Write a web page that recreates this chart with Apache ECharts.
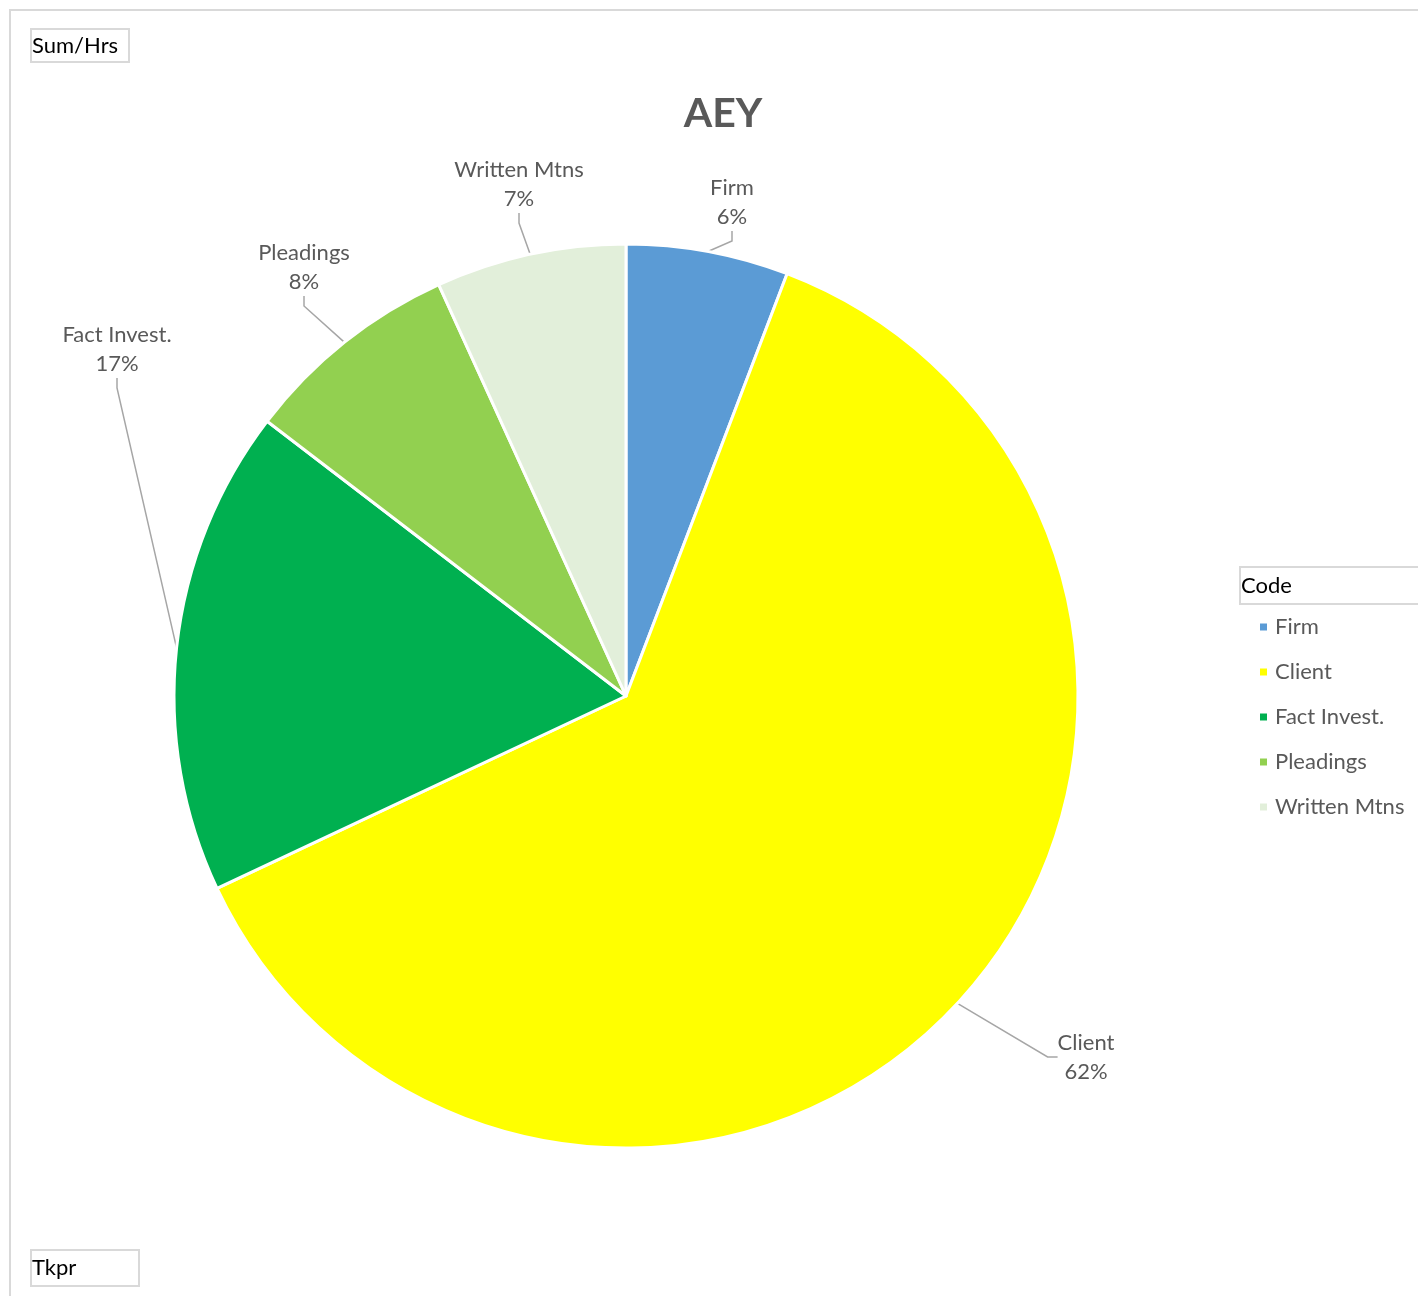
<!DOCTYPE html>
<html>
<head>
<meta charset="utf-8">
<script src="https://cdn.jsdelivr.net/npm/echarts@6/dist/echarts.min.js"></script>
<style>
  html, body { margin: 0; padding: 0; background: #fff; }
  #chart { width: 1418px; height: 1296px; }
</style>
</head>
<body>
<div id="chart"></div>
<script>
// data (hours share per code)
const codes = ['Firm', 'Client', 'Fact Invest.', 'Pleadings', 'Written Mtns'];
const hours = [5.8, 62.2, 17.4, 7.8, 6.8];
const colors = ['#5B9BD5', '#FFFF00', '#00B050', '#92D050', '#E2EFDA'];

// where each data label sits (label centres)
const labelSpots = [[732, 202], [1086, 1057], [117, 349], [304, 267], [519, 184]];

const font = 'Lato, "Open Sans", sans-serif';
const chart = echarts.init(document.getElementById('chart'));

// small boxed field buttons like in the pivot chart
function fieldBox(x, y, w, h, text) {
  return {
    type: 'group',
    x: x, y: y,
    children: [
      { type: 'rect', shape: { x: 0, y: 0, width: w, height: h },
        style: { fill: '#fff', stroke: '#d9d9d9', lineWidth: 2 } },
      { type: 'text', x: 1, y: h / 2,
        style: { text: text, fill: '#000', font: '22px ' + font, verticalAlign: 'middle' } }
    ]
  };
}

const option = {
  backgroundColor: '#fff',
  title: {
    text: 'AEY',
    left: 718,
    top: 88,
    textAlign: 'center',
    textStyle: { fontSize: 41, fontWeight: 'bold', color: '#595959', fontFamily: font }
  },
  legend: {
    orient: 'vertical',
    left: 1258,
    top: 616,
    padding: 0,
    itemWidth: 9,
    itemHeight: 9,
    itemGap: 23,
    icon: 'rect',
    textStyle: { fontSize: 22, color: '#595959', fontFamily: font, lineHeight: 22, padding: [0, 0, 0, 2] },
    data: codes
  },
  graphic: [
    { type: 'rect', shape: { x: 10, y: 10, width: 1420, height: 1300 },
      style: { fill: 'none', stroke: '#d9d9d9', lineWidth: 2 }, z: -1 },
    fieldBox(31, 29, 98, 33, 'Sum/Hrs'),
    fieldBox(31, 1250, 108, 36, 'Tkpr'),
    fieldBox(1240, 567, 190, 37, 'Code')
  ],
  series: [{
    type: 'pie',
    center: [626, 696],
    radius: 452,
    startAngle: 90,
    clockwise: true,
    percentPrecision: 0,
    animation: false,
    itemStyle: { borderColor: '#fff', borderWidth: 3 },
    label: {
      show: true,
      position: 'outside',
      formatter: '{b}\n{d}%',
      fontSize: 22,
      lineHeight: 29,
      color: '#595959',
      fontFamily: font,
      align: 'center'
    },
    labelLine: { show: true, length: 10, length2: 10, lineStyle: { color: '#a6a6a6', width: 1.5 } },
    labelLayout: function (params) {
      const p = labelSpots[params.dataIndex];
      return { x: p[0], y: p[1], align: 'center', verticalAlign: 'middle' };
    },
    data: codes.map((c, i) => ({ name: c, value: hours[i], itemStyle: { color: colors[i] } }))
  }]
};

chart.setOption(option);
</script>
</body>
</html>
